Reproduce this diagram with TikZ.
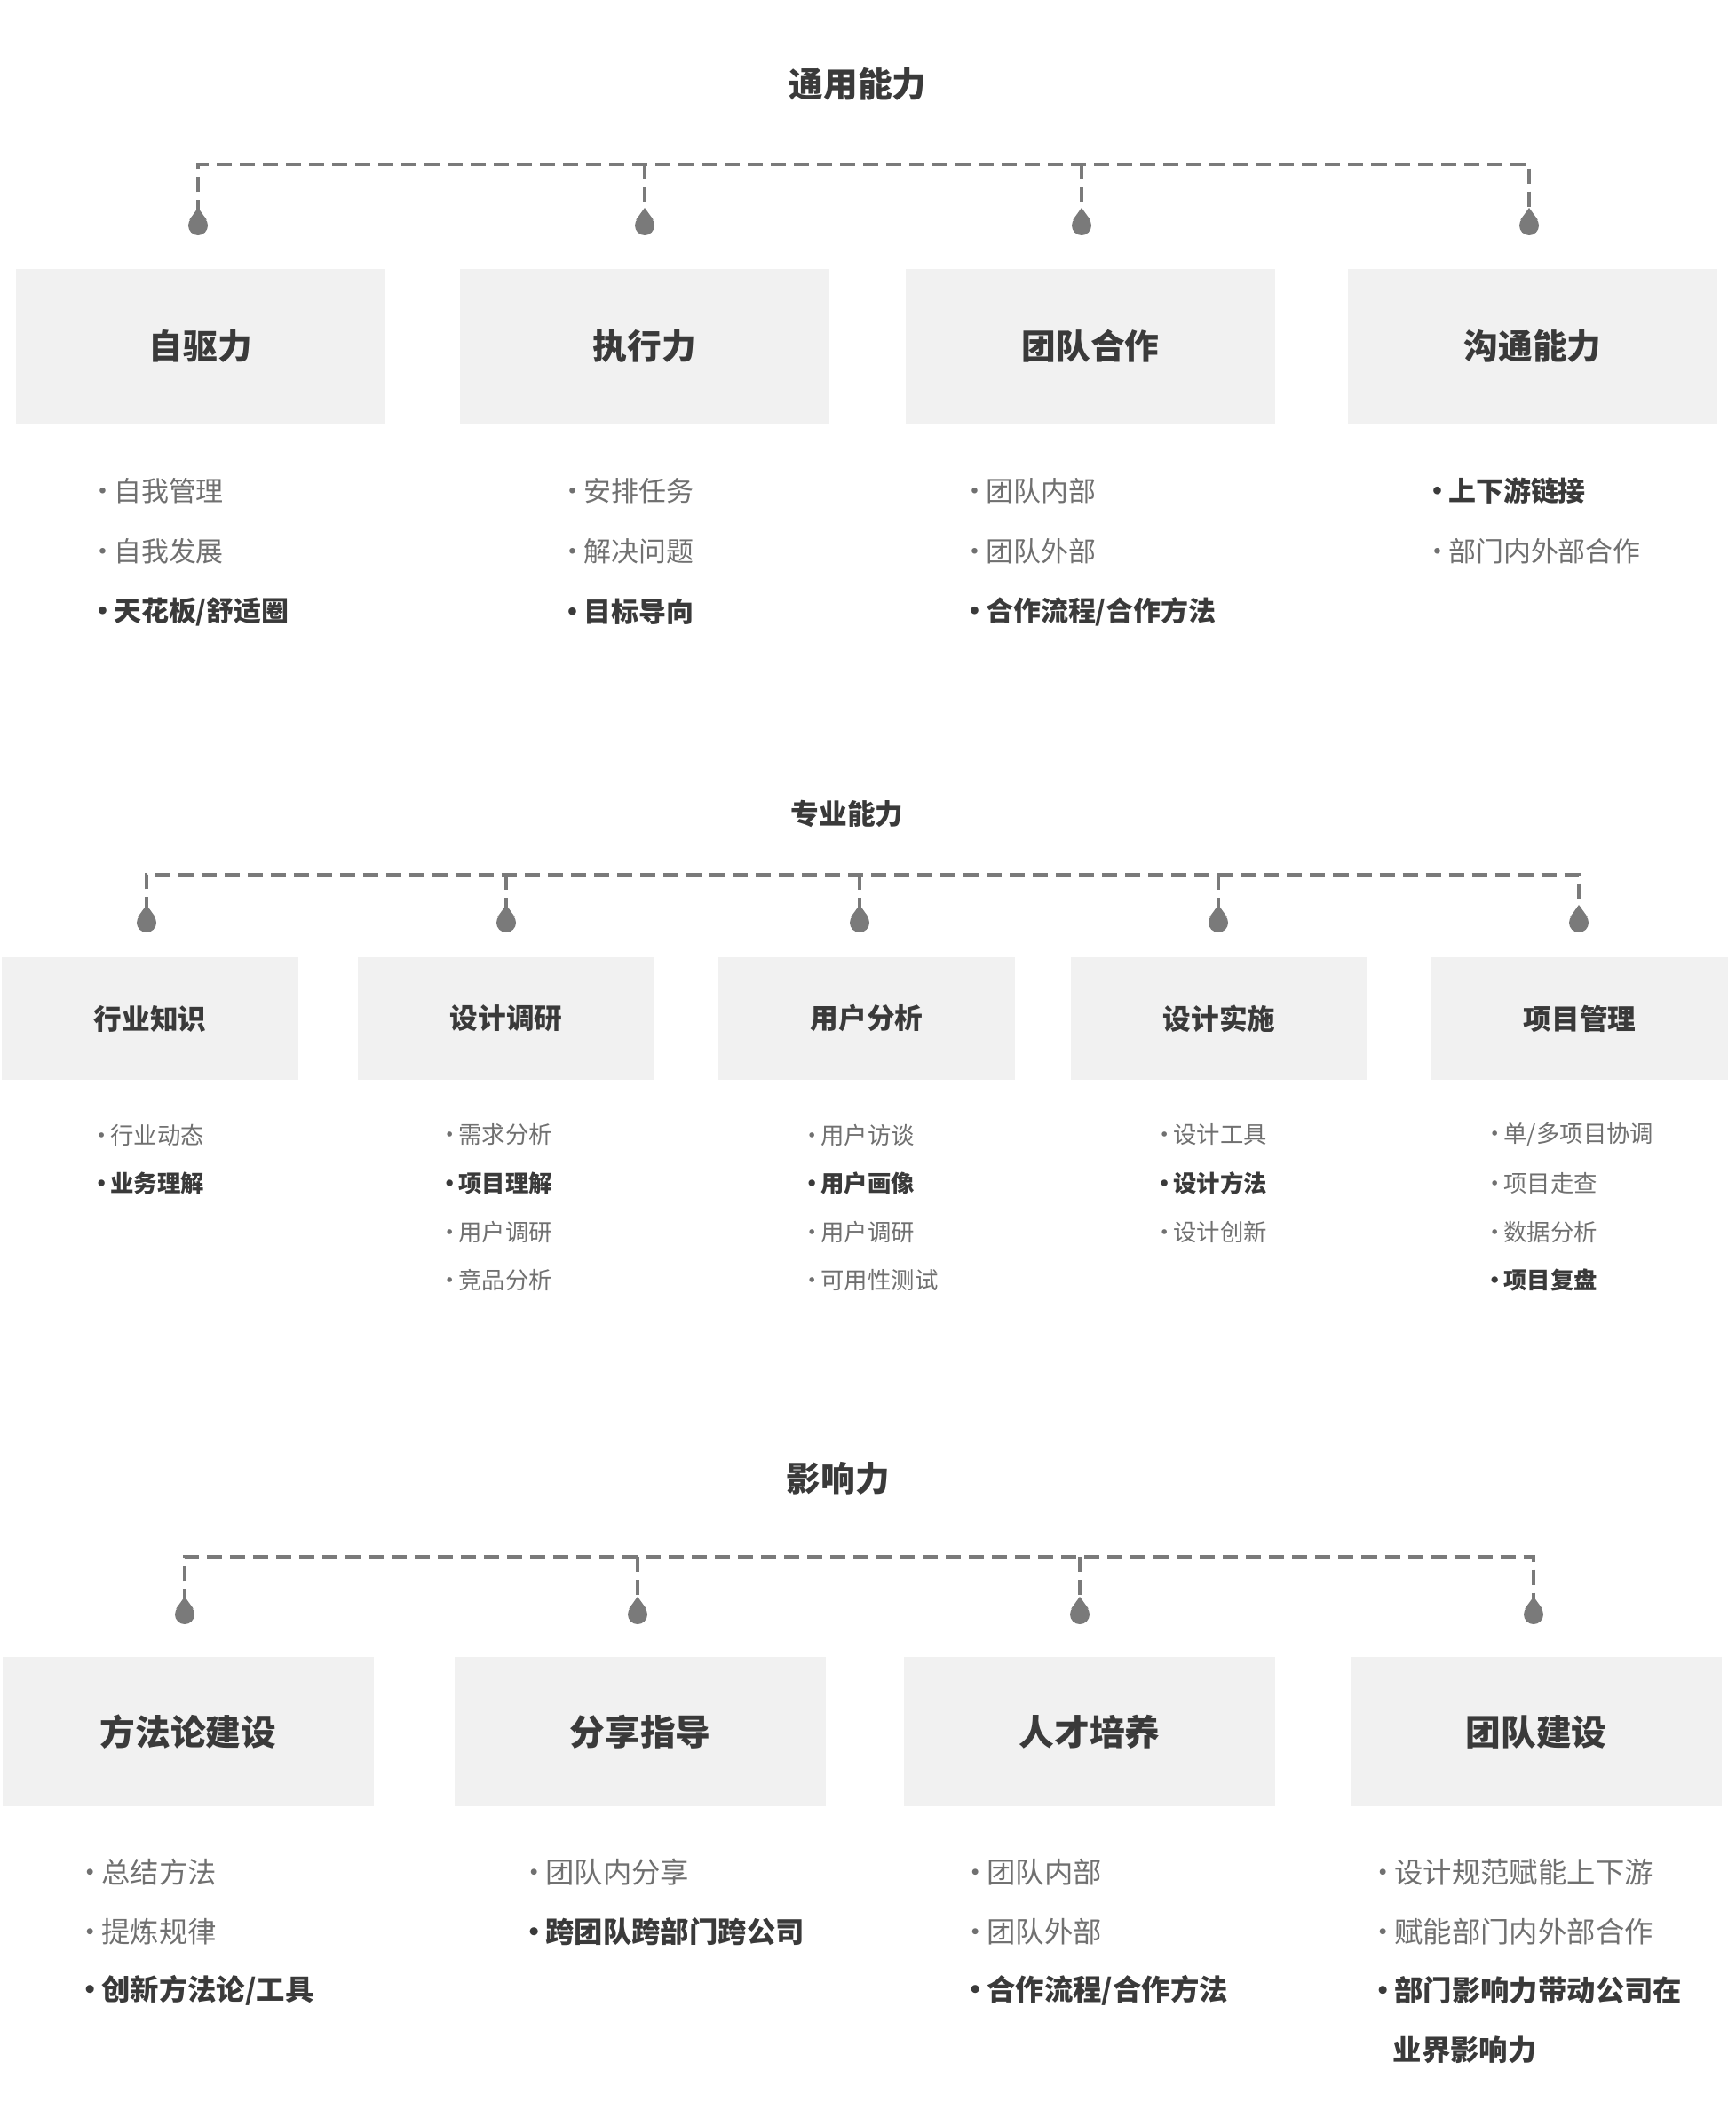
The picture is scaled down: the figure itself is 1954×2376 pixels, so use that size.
\documentclass[tikz,border=0pt]{standalone}
\usepackage{fontspec}
\setmainfont{Noto Sans CJK SC}
\usetikzlibrary{positioning}
\definecolor{linegray}{HTML}{7A7A7A}
\definecolor{boxfill}{HTML}{F1F1F1}
\definecolor{ink}{HTML}{3A3A3A}
\definecolor{soft}{HTML}{707070}
\newcommand\dotmark{•\kern-0.035cm}
\tikzset{
  sectitle/.style={text=ink,font=\fontsize{#1}{#1}\selectfont\bfseries},
  headbox/.style={fill=boxfill,text=ink,inner sep=0pt},
  knob/.style={circle,fill=linegray,inner sep=0pt,minimum size=0.22cm},
  dashlink/.style={draw=linegray,line width=1.4pt,dash pattern=on 0.17cm off 0.09cm},
  entry/.style={anchor=west,inner sep=0pt,text=soft},
  strong/.style={entry,text=ink,execute at begin node=\bfseries}
}

\begin{document}
\begin{tikzpicture}[x=0.01cm,y=-0.01cm]
  \useasboundingbox (0,0) rectangle (1954,2376);

  % 通用能力
  \node[sectitle=11] (tong) at (966,95) {通用能力};
  \foreach \n/\x/\c/\t in {a/223/226/自驱力, b/726/726/执行力, c/1218/1228/团队合作, d/1722/1726/沟通能力}{
    \coordinate (ga\n) at (\x,185);
    \node[knob] (pa\n) at (\x,254) {};
    \fill[linegray] (pa\n.33) -- ([yshift=0.2cm]pa\n.center) -- (pa\n.147) -- cycle;
    \node[headbox,minimum width=4.15cm,minimum height=1.73cm,font=\fontsize{11}{11}\selectfont\bfseries] (ca\n) at (\c,390) {\t};
  }
  \draw[dashlink] (paa) -- (gaa) -- (gad) -- (pad);
  \draw[dashlink] (gab) -- (pab);
  \draw[dashlink] (gac) -- (pac);
  \begin{scope}[every node/.append style={font=\fontsize{8.8}{10}\selectfont}]
    \foreach \s/\t [count=\i] in {entry/自我管理, entry/自我发展, strong/{天花板/舒适圈}}
      \node[\s] (ia\i) at (100,{553+68*(\i-1)}) {\dotmark\t};
    \foreach \s/\t [count=\i] in {entry/安排任务, entry/解决问题, strong/目标导向}
      \node[\s] (ib\i) at (629,{553+68*(\i-1)}) {\dotmark\t};
    \foreach \s/\t [count=\i] in {entry/团队内部, entry/团队外部, strong/{合作流程/合作方法}}
      \node[\s] (ic\i) at (1082,{553+68*(\i-1)}) {\dotmark\t};
    \foreach \s/\t [count=\i] in {strong/上下游链接, entry/部门内外部合作}
      \node[\s] (id\i) at (1603,{553+68*(\i-1)}) {\dotmark\t};
  \end{scope}

  % 专业能力
  \node[sectitle=9] (zhuan) at (954,916) {专业能力};
  \foreach \n/\x/\c/\t in {a/165/169/行业知识, b/570/570/设计调研, c/968/976/用户分析, d/1372/1373/设计实施, e/1778/1779/项目管理}{
    \coordinate (gb\n) at (\x,985);
    \node[knob] (pb\n) at (\x,1039) {};
    \fill[linegray] (pb\n.33) -- ([yshift=0.2cm]pb\n.center) -- (pb\n.147) -- cycle;
    \node[headbox,minimum width=3.33cm,minimum height=1.38cm,font=\fontsize{9}{9}\selectfont\bfseries] (cb\n) at (\c,1147) {\t};
  }
  \draw[dashlink] (pba) -- (gba) -- (gbe) -- (pbe);
  \draw[dashlink] (gbb) -- (pbb);
  \draw[dashlink] (gbc) -- (pbc);
  \draw[dashlink] (gbd) -- (pbd);
  \begin{scope}[every node/.append style={font=\fontsize{7.5}{9}\selectfont}]
    \foreach \s/\t [count=\i] in {entry/行业动态, strong/业务理解}
      \node[\s] (ja\i) at (101,{1278+54.6*(\i-1)}) {\dotmark\t};
    \foreach \s/\t [count=\i] in {entry/需求分析, strong/项目理解, entry/用户调研, entry/竞品分析}
      \node[\s] (jb\i) at (493,{1278+54.6*(\i-1)}) {\dotmark\t};
    \foreach \s/\t [count=\i] in {entry/用户访谈, strong/用户画像, entry/用户调研, entry/可用性测试}
      \node[\s] (jc\i) at (901,{1278+54.6*(\i-1)}) {\dotmark\t};
    \foreach \s/\t [count=\i] in {entry/设计工具, strong/设计方法, entry/设计创新}
      \node[\s] (jd\i) at (1298,{1278+54.6*(\i-1)}) {\dotmark\t};
    \foreach \s/\t [count=\i] in {entry/{单/多项目协调}, entry/项目走查, entry/数据分析, strong/项目复盘}
      \node[\s] (je\i) at (1670,{1278+54.6*(\i-1)}) {\dotmark\t};
  \end{scope}

  % 影响力
  \node[sectitle=11] (ying) at (944,1665) {影响力};
  \foreach \n/\x/\c/\t in {a/208/212/方法论建设, b/718/721/分享指导, c/1216/1227/人才培养, d/1727/1730/团队建设}{
    \coordinate (gc\n) at (\x,1753);
    \node[knob] (pc\n) at (\x,1818) {};
    \fill[linegray] (pc\n.33) -- ([yshift=0.2cm]pc\n.center) -- (pc\n.147) -- cycle;
    \node[headbox,minimum width=4.18cm,minimum height=1.67cm,font=\fontsize{11.3}{11.3}\selectfont\bfseries] (cc\n) at (\c,1950) {\t};
  }
  \draw[dashlink] (pca) -- (gca) -- (gcd) -- (pcd);
  \draw[dashlink] (gcb) -- (pcb);
  \draw[dashlink] (gcc) -- (pcc);
  \begin{scope}[every node/.append style={font=\fontsize{9.2}{10}\selectfont}]
    \foreach \s/\t [count=\i] in {entry/总结方法, entry/提炼规律, strong/{创新方法论/工具}}
      \node[\s] (ka\i) at (85,{2108+66.7*(\i-1)}) {\dotmark\t};
    \foreach \s/\t [count=\i] in {entry/团队内分享, strong/跨团队跨部门跨公司}
      \node[\s] (kb\i) at (585,{2108+66.7*(\i-1)}) {\dotmark\t};
    \foreach \s/\t [count=\i] in {entry/团队内部, entry/团队外部, strong/{合作流程/合作方法}}
      \node[\s] (kc\i) at (1082,{2108+66.7*(\i-1)}) {\dotmark\t};
    \foreach \s/\t [count=\i] in {entry/设计规范赋能上下游, entry/赋能部门内外部合作, strong/部门影响力带动公司在}
      \node[\s] (kd\i) at (1541,{2108+66.7*(\i-1)}) {\dotmark\t};
    \node[strong] (kd4) at (1568,2308) {业界影响力};
  \end{scope}
\end{tikzpicture}
\end{document}
